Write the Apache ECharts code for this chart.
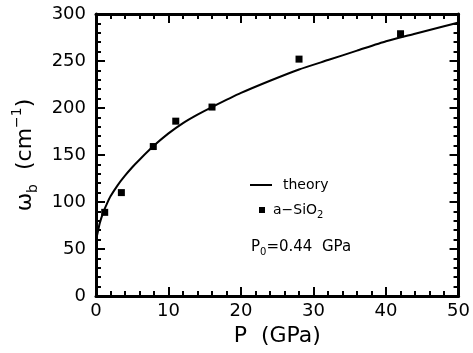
<!DOCTYPE html>
<html>
<head>
<meta charset="utf-8">
<script src="https://cdn.jsdelivr.net/npm/echarts@6/dist/echarts.min.js"></script>
<style>html,body{margin:0;padding:0;background:#fff}#c{width:473px;height:353px}</style>
</head>
<body>
<div id="c"></div>
<script>
// theory curve (P in GPa, omega_b in cm^-1)
var theoryP = [0, 0.25, 0.5, 1, 1.5, 2, 3, 4, 5, 6, 8, 10, 12, 14, 16, 20, 24, 28, 32, 36, 40, 44, 48, 50];
var theoryW = [60, 68, 77, 89, 98, 106, 118, 128, 137, 145, 160, 173, 184, 193, 201, 216, 229, 241, 251, 261, 271, 279, 287, 291];
// measured a-SiO2 points
var expP = [1.2, 3.5, 7.9, 11.0, 16.0, 28.0, 42.0];
var expW = [89, 110, 159, 186, 201, 252, 279];
var xTicks = [0, 10, 20, 30, 40, 50];
var yTicks = [0, 50, 100, 150, 200, 250, 300];

var FONT = 'DejaVu Sans';
function pairs(a, b) { return a.map(function (v, i) { return [v, b[i]]; }); }

var axisLine = { show: true, onZero: false, lineStyle: { color: '#000', width: 3 } };
function xAx(pos, labels) {
  return {
    type: 'value', position: pos, min: xTicks[0], max: xTicks[xTicks.length - 1], interval: 10,
    axisLine: axisLine,
    axisTick: { show: true, inside: true, length: 9, lineStyle: { color: '#000', width: 2 } },
    minorTick: { show: true, splitNumber: 5, length: 5, lineStyle: { color: '#000', width: 2 } },
    splitLine: { show: false },
    axisLabel: { show: labels, color: '#000', fontFamily: FONT, fontSize: 18, margin: 6 },
    name: labels ? 'P  (GPa)' : '', nameLocation: 'middle', nameGap: 28,
    nameTextStyle: { color: '#000', fontFamily: FONT, fontSize: 22 }
  };
}
function yAx(pos, labels) {
  return {
    type: 'value', position: pos, min: yTicks[0], max: yTicks[yTicks.length - 1], interval: 50,
    axisLine: axisLine,
    axisTick: { show: true, inside: true, length: 9, lineStyle: { color: '#000', width: 2 } },
    minorTick: { show: true, splitNumber: 5, length: 5, lineStyle: { color: '#000', width: 2 } },
    splitLine: { show: false },
    axisLabel: { show: labels, color: '#000', fontFamily: FONT, fontSize: 18, margin: 10 },
    name: labels ? '{w|ω}{sub|b}  {n|(cm}{sup|−1}{n|)}' : '', nameLocation: 'middle', nameGap: 42,
    nameTextStyle: {
      color: '#000', fontFamily: FONT, fontSize: 22,
      rich: {
        w: { fontFamily: FONT, fontSize: 22, color: '#000', lineHeight: 30 },
        n: { fontFamily: FONT, fontSize: 22, color: '#000', lineHeight: 30 },
        sub: { fontFamily: FONT, fontSize: 14, color: '#000', verticalAlign: 'bottom', lineHeight: 30 },
        sup: { fontFamily: FONT, fontSize: 14, color: '#000', verticalAlign: 'top', lineHeight: 30 }
      }
    }
  };
}

var chart = echarts.init(document.getElementById('c'), null, { renderer: 'canvas' });
chart.setOption({
  animation: false,
  backgroundColor: '#fff',
  grid: { left: 96, right: 11, top: 14, bottom: 57 },
  xAxis: [xAx('bottom', true), xAx('top', false)],
  yAxis: [yAx('left', true), yAx('right', false)],
  legend: [
    {
      data: [{ name: 'theory', icon: 'rect' }], orient: 'vertical', left: 245, top: 173, padding: 5,
      itemWidth: 22, itemHeight: 2,
      itemStyle: { color: '#000', opacity: 1 },
      textStyle: { color: '#000', fontFamily: FONT, fontSize: 14, padding: [0, 0, 0, 6] }
    },
    {
      data: [{ name: 'a-SiO2', icon: 'rect' }], orient: 'vertical', left: 254, top: 198, padding: 5,
      itemWidth: 6, itemHeight: 6,
      itemStyle: { color: '#000', opacity: 1 },
      formatter: function () { return '{t|a−SiO}{s|2}'; },
      textStyle: {
        color: '#000', fontFamily: FONT, fontSize: 14, padding: [0, 0, 0, 3],
        rich: {
          t: { fontFamily: FONT, fontSize: 14, color: '#000', lineHeight: 20 },
          s: { fontFamily: FONT, fontSize: 10, color: '#000', verticalAlign: 'bottom', lineHeight: 20 }
        }
      }
    }
  ],
  graphic: [{
    type: 'text', left: 251, top: 240,
    style: {
      text: '{t|P}{s|0}{t|=0.44  GPa}',
      fill: '#000',
      rich: {
        t: { fontFamily: FONT, fontSize: 15, fill: '#000', lineHeight: 20 },
        s: { fontFamily: FONT, fontSize: 10, fill: '#000', verticalAlign: 'bottom', lineHeight: 20 }
      }
    }
  }],
  series: [
    {
      name: 'theory', type: 'line', xAxisIndex: 0, yAxisIndex: 0,
      data: pairs(theoryP, theoryW), symbol: 'none', smooth: 0.2,
      lineStyle: { color: '#000', width: 2 }, itemStyle: { color: '#000' }
    },
    {
      name: 'a-SiO2', type: 'scatter', xAxisIndex: 0, yAxisIndex: 0,
      data: pairs(expP, expW), symbol: 'rect', symbolSize: 7,
      itemStyle: { color: '#000', opacity: 1 }
    }
  ]
});
</script>
</body>
</html>
